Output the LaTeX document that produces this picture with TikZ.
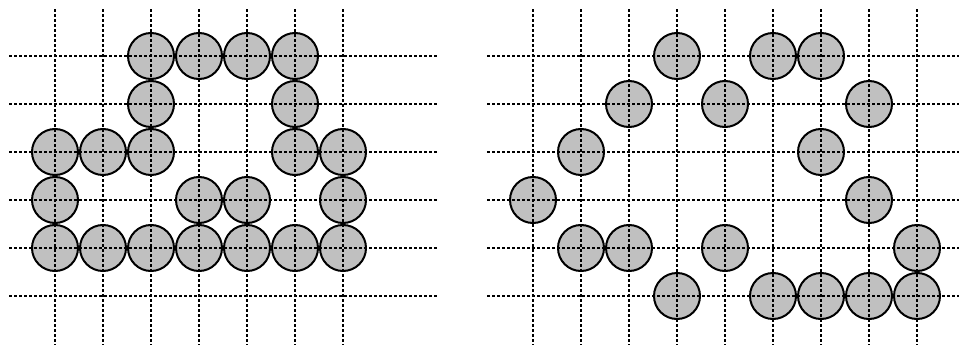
\documentclass[tikz,border=0pt]{standalone}
\usepackage{tikz}
\usetikzlibrary{positioning}

\begin{document}
\begin{tikzpicture}[
    x=1pt, y=-1pt,
    stone/.style={circle, draw, line width=2pt, fill={rgb,255:red,192;green,192;blue,192}, minimum size=46pt, inner sep=0pt},
    gridline/.style={draw, line width=1.2pt, dash pattern=on 3pt off 2pt}
]
    \useasboundingbox (0,0) rectangle (959,348);

    % Stones of the left board (column/row)
    \foreach \c/\r in {2/0,3/0,4/0,5/0, 2/1,5/1, 0/2,1/2,2/2,5/2,6/2,
                       0/3,3/3,4/3,6/3, 0/4,1/4,2/4,3/4,4/4,5/4,6/4}
        \node[stone] (l-\c-\r) at (55+48*\c, 56+48*\r) {};

    % Stones of the right board (column/row)
    \foreach \c/\r in {3/0,5/0,6/0, 2/1,4/1,7/1, 1/2,6/2, 0/3,7/3,
                       1/4,2/4,4/4,8/4, 3/5,5/5,6/5,7/5,8/5}
        \node[stone] (r-\c-\r) at (533+48*\c, 56+48*\r) {};

    % Grid of the left board
    \foreach \r in {0,...,5}
        \draw[gridline] (9, 56+48*\r) -- (437, 56+48*\r);
    \foreach \c in {0,...,6}
        \draw[gridline] (55+48*\c, 9) -- (55+48*\c, 345);

    % Grid of the right board
    \foreach \r in {0,...,5}
        \draw[gridline] (487, 56+48*\r) -- (959, 56+48*\r);
    \foreach \c in {0,...,8}
        \draw[gridline] (533+48*\c, 9) -- (533+48*\c, 345);

\end{tikzpicture}
\end{document}
